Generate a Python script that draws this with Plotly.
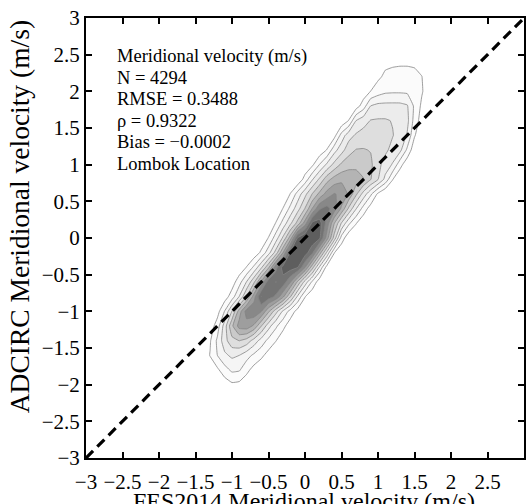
import plotly.graph_objects as go

# ---------------- data ----------------
# density grid: x columns every 0.1 from -1.6 to 2.0, rows every 0.2 from -2.2 to 2.6
grid_x = [round(-1.6 + 0.1 * i, 1) for i in range(37)]
grid_y = [round(-2.2 + 0.2 * j, 1) for j in range(25)]

# each row: x of first listed value, then the density levels read across the row
row_start = [-1.6, -1.2, -1.4, -1.5, -1.5, -1.4, -1.3, -1.2, -1.1, -1.0, -0.8, -0.7,
             -0.6, -0.5, -0.4, -0.2, -0.1, 0.1, 0.2, 0.4, 0.6, 0.7, 0.8, 0.9, -1.6]
row_values = [
    [],
    [0.1, 0.4, 0.8, 0.7, 0.3, 0.0],
    [0, 0.3, 0.8, 1.6, 2.2, 2.1, 1.3, 0.6, 0.2, 0],
    [0, 0.3, 1.05, 2.0, 2.8, 3.2, 3.0, 2.4, 1.8, 1.25, 0.6, 0],
    [0, 0.2, 0.9, 2.2, 3.6, 4.7, 5.02, 4.6, 3.6, 2.6, 1.7, 1.05, 0.3, 0],
    [0, 0.4, 1.5, 3.5, 5.8, 7.4, 7.6, 6.8, 5.05, 3.4, 2.2, 1.3, 0.4, 0],
    [0, 0.6, 2.05, 4.05, 6.5, 8.4, 8.8, 8.05, 6.2, 4.4, 2.8, 1.6, 0.6, 0],
    [0, 0.5, 1.5, 3.05, 5.05, 7.5, 10.03, 9.5, 8.8, 7.2, 5.05, 2.8, 1.05, 0.2, 0],
    [0, 0.5, 1.6, 3.05, 4.8, 7.2, 9.6, 10.05, 9.6, 8.05, 5.8, 3.6, 1.8, 0.4, 0],
    [0, 0.3, 1.05, 2.2, 3.8, 5.8, 8.6, 10.4, 10.5, 10.02, 8.05, 5.4, 2.8, 0.6, 0],
    [0, 0.3, 1.2, 2.6, 4.4, 7.05, 10.2, 10.8, 10.5, 9.2, 6.5, 3.8, 1.05, 0.1, 0],
    [0, 0.2, 1.05, 2.5, 4.2, 6.5, 10.1, 11.05, 10.8, 10.2, 7.5, 4.6, 1.6, 0.2, 0],
    [0, 0.2, 1.05, 2.4, 3.8, 5.4, 7.5, 10.3, 10.4, 8.6, 6.05, 3.9, 2.2, 1.05, 0.2, 0],
    [0, 0.2, 1.05, 2.3, 3.6, 5.05, 7.05, 8.9, 9.36, 8.5, 6.8, 4.8, 3.05, 1.6, 0.5, 0],
    [0, 0.1, 1.05, 2.4, 3.7, 5.05, 6.3, 7.4, 8.06, 7.8, 6.8, 5.2, 3.6, 2.2, 0.8, 0],
    [0, 0.2, 1.4, 2.9, 4.2, 5.6, 6.4, 6.75, 6.75, 6.5, 6.05, 5.05, 4.05, 2.7, 1.05, 0.1, 0],
    [0, 0.2, 0.8, 2.05, 3.2, 4.3, 5.2, 5.6, 5.73, 5.6, 5.2, 4.3, 3.6, 2.9, 1.4, 0.3, 0],
    [0, 0.3, 1.05, 2.6, 3.6, 4.6, 5.05, 5.07, 4.95, 4.6, 4.2, 3.7, 3.3, 1.8, 0.3, 0],
    [0, 0.1, 0.6, 2.4, 3.6, 4.15, 4.4, 4.53, 4.53, 4.4, 4.05, 3.6, 2.9, 1.1, 0.2, 0],
    [0, 0.2, 1.05, 3.02, 3.6, 4.05, 4.1, 4.1, 3.95, 3.6, 3.3, 1.6, 0.5, 0],
    [0, 0.5, 1.5, 3.02, 3.3, 3.31, 3.31, 3.3, 3.1, 1.8, 0.8, 0],
    [0, 0.4, 1.02, 1.5, 1.8, 1.85, 1.85, 1.8, 1.6, 1.1, 0.4, 0],
    [0, 0.2, 0.8, 1.2, 1.35, 1.37, 1.37, 1.3, 1.02, 0.4, 0],
    [0, 0.3, 0.75, 0.8, 0.85, 0.85, 0.8, 0.6, 0.2, 0],
    [],
]

# one-to-one reference line
diag_x = [-3, 3]
diag_y = [-3, 3]

# axis ticks
tick_vals = [-3, -2.5, -2, -1.5, -1, -0.5, 0, 0.5, 1, 1.5, 2, 2.5, 3]
tick_text = ["\u22123", "\u22122.5", "\u22122", "\u22121.5", "\u22121", "\u22120.5",
             "0", "0.5", "1", "1.5", "2", "2.5", "3"]

stats_lines = ["Meridional velocity (m/s)", "N = 4294", "RMSE = 0.3488",
               "\u03c1 = 0.9322", "Bias = \u22120.0002", "Lombok Location"]

contour_levels = dict(start=1, end=11, size=1)
band_colors = ["#ffffff", "#fbfbfb", "#f5f5f5", "#ececec", "#dedede", "#cacaca",
               "#b4b4b4", "#9e9e9e", "#888888", "#737373", "#5e5e5e", "#4e4e4e"]

# ---------------- build grid table ----------------
z = []
for start, vals in zip(row_start, row_values):
    row = [0.0] * len(grid_x)
    i0 = int(round((start - grid_x[0]) / 0.1))
    for k, v in enumerate(vals):
        row[i0 + k] = v
    z.append(row)

colorscale = [[i / (len(band_colors) - 1), c] for i, c in enumerate(band_colors)]

FONT = "Liberation Serif"

fig = go.Figure()
fig.add_trace(go.Contour(
    x=grid_x, y=grid_y, z=z,
    autocontour=False,
    contours=dict(coloring="fill", showlines=True, **contour_levels),
    colorscale=colorscale,
    line=dict(color="#858585", width=0.8, smoothing=0.3),
    showscale=False, hoverinfo="skip",
))
fig.add_trace(go.Scatter(
    x=diag_x, y=diag_y, mode="lines",
    line=dict(color="black", width=3.2, dash="10px,6px"),
    hoverinfo="skip", showlegend=False,
))

axis_common = dict(
    range=[-3, 3], tickvals=tick_vals, ticktext=tick_text,
    showgrid=False, zeroline=False,
    showline=True, linecolor="black", linewidth=2, mirror="ticks",
    ticks="inside", ticklen=6, tickwidth=1.8, tickcolor="black",
    tickfont=dict(family=FONT, size=21, color="black"),
)
fig.update_xaxes(**axis_common, ticklabelstandoff=4)
fig.update_yaxes(**axis_common)

annotations = []
line_gap = 0.293
for i, t in enumerate(stats_lines):
    annotations.append(dict(
        x=-2.605, y=2.48 - i * line_gap, xref="x", yref="y",
        text=t, showarrow=False, xanchor="left", yanchor="middle",
        font=dict(family=FONT, size=18.5, color="black"),
    ))
annotations.append(dict(
    x=-0.152, y=0.548, xref="paper", yref="paper",
    text="ADCIRC Meridional velocity (m/s)", textangle=-90, showarrow=False,
    xanchor="center", yanchor="middle",
    font=dict(family=FONT, size=27.5, color="black"),
))
annotations.append(dict(
    x=0.498, y=-0.064, xref="paper", yref="paper",
    text="FES2014 Meridional velocity (m/s)", showarrow=False,
    xanchor="center", yanchor="top",
    font=dict(family=FONT, size=24, color="black"),
))

fig.update_layout(
    width=528, height=504,
    margin=dict(l=86, r=2, t=18, b=46),
    paper_bgcolor="white", plot_bgcolor="white",
    showlegend=False,
    annotations=annotations,
)

fig.write_html("out.html")
